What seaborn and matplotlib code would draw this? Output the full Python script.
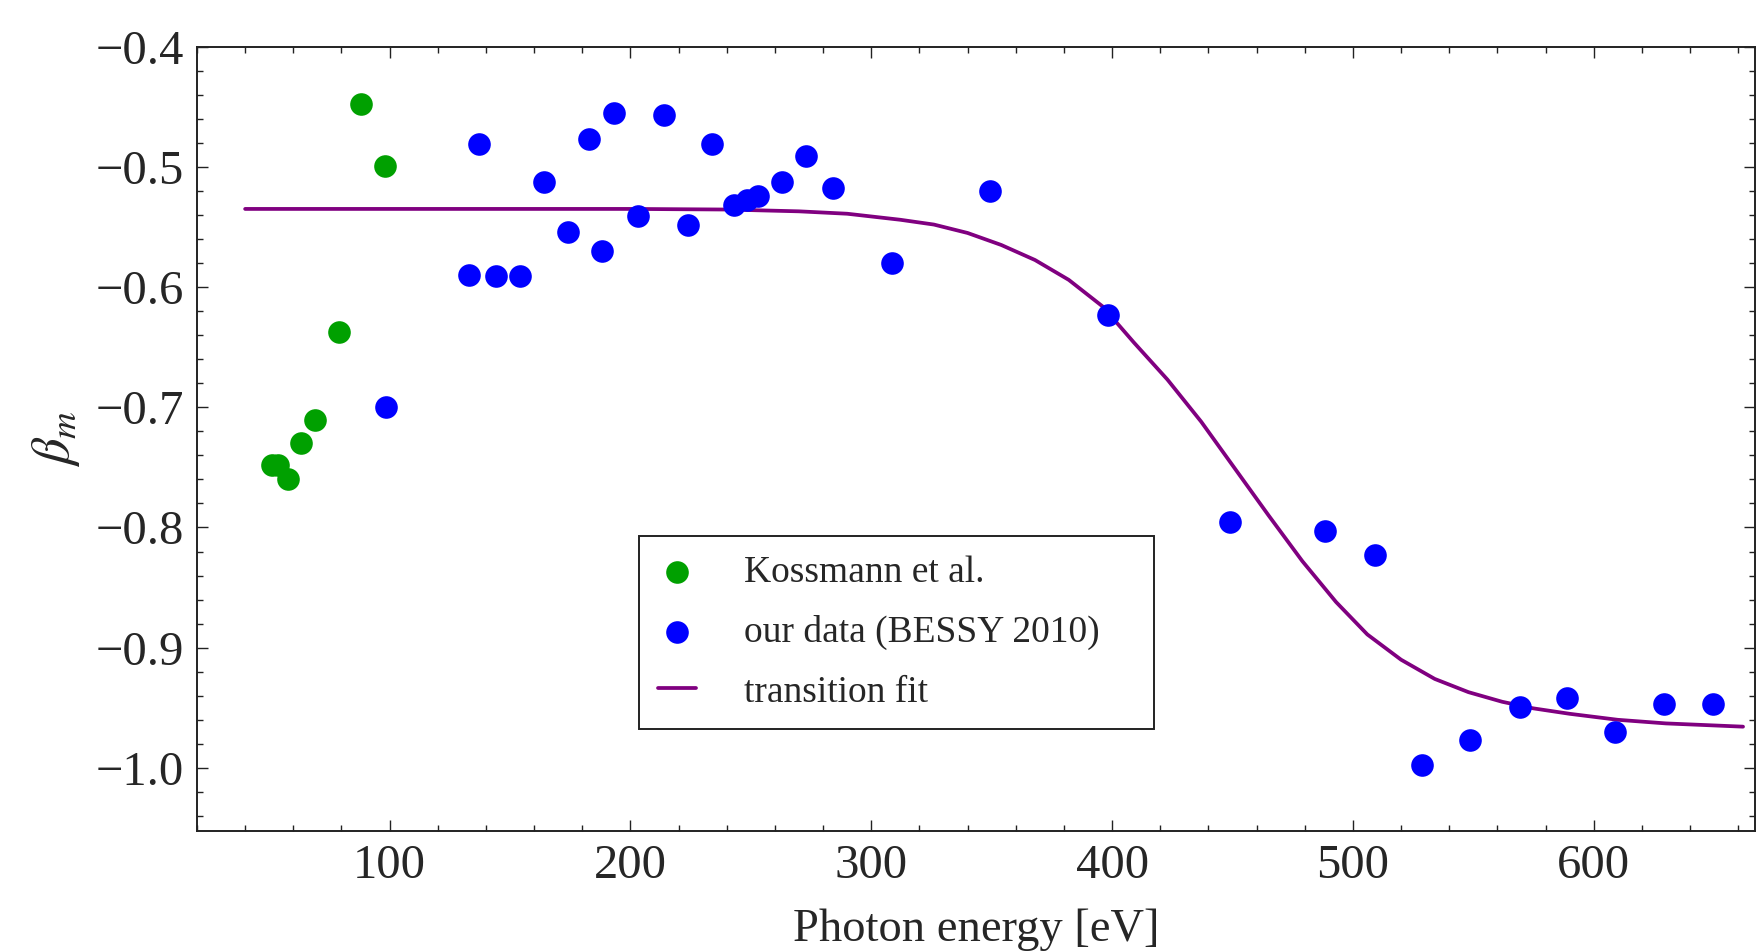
import numpy as np
import pandas as pd
import matplotlib
matplotlib.use("Agg")
import matplotlib.pyplot as plt
from matplotlib.ticker import MultipleLocator
import seaborn as sns

# =====================================================
# DATA
# =====================================================

kossmann_energy = [51, 53.5, 58, 63, 69, 79, 88, 98]
kossmann_beta = [-0.748, -0.748, -0.760, -0.730, -0.711, -0.637, -0.448, -0.499]

bessy_energy = [98.5, 133, 137, 144, 154, 164, 174, 183, 188, 193, 203,
                214, 224, 234, 243, 248.5, 253, 263, 273, 284, 308.5,
                349.5, 398.5, 449, 488.5, 509, 528.5, 548.5, 569.5, 589,
                609, 629, 649.5]
bessy_beta = [-0.700, -0.590, -0.481, -0.591, -0.591, -0.513, -0.5545,
              -0.477, -0.570, -0.455, -0.541, -0.457, -0.548, -0.481,
              -0.532, -0.5275, -0.524, -0.513, -0.491, -0.518, -0.580,
              -0.520, -0.623, -0.7956, -0.803, -0.823, -0.998, -0.977,
              -0.9496, -0.942, -0.970, -0.947, -0.947]

fit_energy = [40, 100, 150, 200, 240, 270, 290, 312, 326, 340, 354, 368,
              382, 396, 409, 423, 437, 451, 465, 479, 493, 506, 520, 534,
              548, 562, 575, 590, 610, 630, 662]
fit_beta = [-0.535, -0.535, -0.535, -0.535, -0.5355, -0.537, -0.539,
            -0.544, -0.548, -0.555, -0.565, -0.5775, -0.594, -0.616,
            -0.646, -0.677, -0.712, -0.751, -0.790, -0.828, -0.862,
            -0.889, -0.910, -0.926, -0.937, -0.945, -0.9505, -0.955,
            -0.9600, -0.9630, -0.9657]

labels = ["Kossmann et al.", "our data (BESSY 2010)", "transition fit"]

# =====================================================
# STYLE
# =====================================================

sns.set_theme(style="ticks")
plt.rcParams["font.family"] = ["Liberation Serif", "DejaVu Serif"]
plt.rcParams["mathtext.fontset"] = "stix"
plt.rcParams["axes.unicode_minus"] = True

green = "#00a000"
blue = "#0000ff"
purple = "#800080"

fig = plt.figure(figsize=(17.57, 9.52), dpi=100)
ax = fig.add_axes([0.1121, 0.1271, 0.8868, 0.8239])

# =====================================================
# PLOT
# =====================================================

sns.lineplot(
    x=fit_energy,
    y=fit_beta,
    color=purple,
    linewidth=2.7,
    label=labels[2],
    legend=False,
    ax=ax,
    zorder=1
)

sns.scatterplot(
    x=kossmann_energy,
    y=kossmann_beta,
    color=green,
    s=265,
    linewidth=0,
    label=labels[0],
    legend=False,
    ax=ax,
    zorder=3
)

sns.scatterplot(
    x=bessy_energy,
    y=bessy_beta,
    color=blue,
    s=265,
    linewidth=0,
    label=labels[1],
    legend=False,
    ax=ax,
    zorder=3
)

ax.set_xlim(20, 667)
ax.set_ylim(-1.0525, -0.4)

ax.xaxis.set_major_locator(MultipleLocator(100))
ax.xaxis.set_minor_locator(MultipleLocator(20))
ax.yaxis.set_major_locator(MultipleLocator(0.1))
ax.yaxis.set_minor_locator(MultipleLocator(0.02))

ax.tick_params(which="both", direction="in", top=True, right=True,
               color="#222222", width=1.0, labelsize=35)
ax.tick_params(which="major", length=8)
ax.tick_params(which="minor", length=4.3)
ax.tick_params(axis="x", pad=9)
ax.tick_params(axis="y", pad=9.5)

for spine in ax.spines.values():
    spine.set_visible(True)
    spine.set_linewidth(1.4)
    spine.set_color("#222222")

ax.set_xlabel("Photon energy [eV]", fontsize=33.5, labelpad=15)
ax.set_ylabel(r"$\beta_m$", fontsize=38, labelpad=10)

# =====================================================
# LEGEND
# =====================================================

handles, hlabels = ax.get_legend_handles_labels()
order = [hlabels.index(lbl) for lbl in labels]

leg = ax.legend(
    [handles[i] for i in order],
    [hlabels[i] for i in order],
    loc="upper left",
    bbox_to_anchor=(0.2837, 0.1364, 0.3306, 0.2397),
    mode="expand",
    borderaxespad=0,
    fontsize=27,
    frameon=True,
    fancybox=False,
    shadow=False,
    framealpha=1,
    edgecolor="#222222",
    borderpad=0.51,
    labelspacing=0.67,
    handlelength=1.0,
    handletextpad=1.3
)
leg.get_frame().set_linewidth(1.4)

fig.savefig("out.png", dpi=100)
